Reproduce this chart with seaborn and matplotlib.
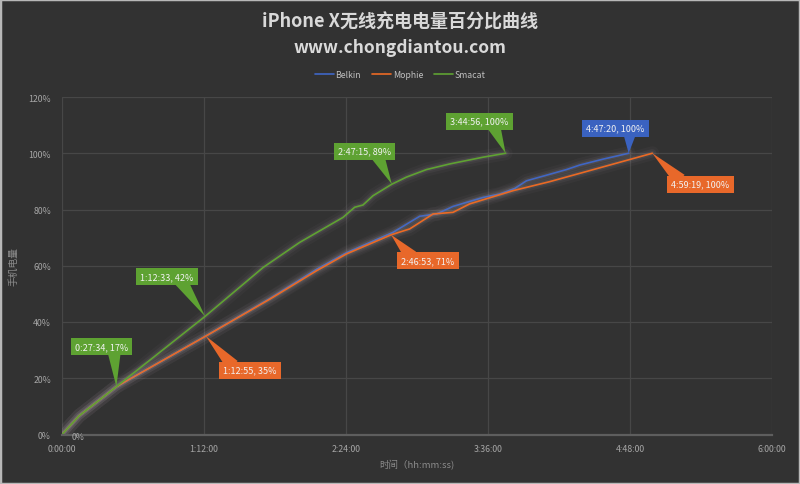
import numpy as np
import pandas as pd
import matplotlib
matplotlib.use("Agg")
import matplotlib.pyplot as plt
import matplotlib.patheffects as pe
from matplotlib.patches import Rectangle
import seaborn as sns

# ---------------- data (time in minutes, charge in %) ----------------
belkin_t = [0, 8.6, 27.57, 72.92, 105.3, 129, 144.2, 167.9, 181.4, 189.9, 198.3,
            213.5, 222, 229.6, 235.5, 255.8, 262.5, 274.3, 287.33]
belkin_y = [0, 6.6, 17, 35, 48.3, 58.7, 64.6, 71.9, 77.6, 78.4, 81.1,
            84.3, 85.5, 87.5, 90.2, 94.2, 95.8, 97.9, 100]

mophie_t = [0, 8.6, 27.57, 72.92, 105.3, 129, 144.2, 166.88, 176.3, 188.1, 198.3,
            206.7, 228.7, 247.3, 299.32]
mophie_y = [0, 6.6, 17, 35, 48.1, 58.2, 64.2, 71, 73.1, 78.4, 79,
            82, 86.7, 89.9, 100]

smacat_t = [0, 8.6, 27.57, 72.55, 102, 120.5, 142.5, 148.4, 152.6, 157.7, 167.25,
            174.6, 184.8, 196.6, 213.5, 224.93]
smacat_y = [0, 6.6, 17, 42, 59.4, 68.3, 77.2, 80.8, 81.6, 84.9, 89,
            91.5, 94.2, 96.2, 98.6, 100]

series_names = ["Belkin", "Mophie", "Smacat"]
x_ticks_min = [0, 72, 144, 216, 288, 360]
y_ticks_pct = [0, 20, 40, 60, 80, 100, 120]

# annotated points: (series, time, pct, label)
callouts = [
    ("Smacat", 27.57, 17, "0:27:34, 17%"),
    ("Smacat", 72.55, 42, "1:12:33, 42%"),
    ("Mophie", 72.92, 35, "1:12:55, 35%"),
    ("Smacat", 167.25, 89, "2:47:15, 89%"),
    ("Smacat", 224.93, 100, "3:44:56, 100%"),
    ("Mophie", 166.88, 71, "2:46:53, 71%"),
    ("Belkin", 287.33, 100, "4:47:20, 100%"),
    ("Mophie", 299.32, 100, "4:59:19, 100%"),
]
# callout box offsets in pixels and wedge base anchor (layout)
callout_offsets = [(-15, 40), (-38, 40), (44, -34), (-27, 33), (-26, 32),
                   (37, -26), (-13, 25), (48, -31)]
callout_relpos = [(0.74, 0), (0.76, 0), (0.18, 1), (0.74, 0), (0.74, 0),
                  (0.18, 1), (0.74, 0), (0.15, 1)]

# ---------------- style ----------------
BG = "#323232"
colors = {"Belkin": "#3f66c6", "Mophie": "#eb6a24", "Smacat": "#5fa232"}
box_colors = {"Belkin": "#3a62c0", "Mophie": "#e8682a", "Smacat": "#5ea232"}

sns.set_theme(style="dark")
plt.rcParams["font.family"] = ["Noto Sans CJK SC", "DejaVu Sans"]
plt.rcParams["axes.unicode_minus"] = False

df = pd.concat([
    pd.DataFrame({"t": belkin_t, "pct": belkin_y, "device": "Belkin"}),
    pd.DataFrame({"t": mophie_t, "pct": mophie_y, "device": "Mophie"}),
    pd.DataFrame({"t": smacat_t, "pct": smacat_y, "device": "Smacat"}),
], ignore_index=True)

fig = plt.figure(figsize=(8.0, 4.85), dpi=100, facecolor=BG)
ax = fig.add_axes([62 / 800, 1 - 435.5 / 485, (772 - 62) / 800, (435.5 - 98) / 485])
ax.set_facecolor(BG)

sns.lineplot(data=df, x="t", y="pct", hue="device", hue_order=series_names,
             palette=colors, sort=False, estimator=None, linewidth=1.2, ax=ax)

for line in ax.get_lines():
    line.set_path_effects([
        pe.Stroke(linewidth=10, foreground="#a0949a", alpha=0.05),
        pe.Stroke(linewidth=6, foreground="#a89aa0", alpha=0.08),
        pe.Stroke(linewidth=3.2, foreground="#b0a4aa", alpha=0.10),
        pe.Normal(),
    ])

ax.set_xlim(0, 360)
ax.set_ylim(0, 120)
ax.set_xticks(x_ticks_min)
ax.set_xticklabels([f"{m // 60}:{m % 60:02d}:00" for m in x_ticks_min])
ax.set_yticks(y_ticks_pct)
ax.set_yticklabels([f"{v}%" for v in y_ticks_pct])
ax.tick_params(axis="both", colors="#a6a6a6", labelsize=6.3, length=0)
ax.tick_params(axis="x", pad=7)
ax.tick_params(axis="y", pad=8)
ax.grid(True, color="#474747", linewidth=0.9)
for s in ["top", "right", "left"]:
    ax.spines[s].set_visible(False)
ax.spines["bottom"].set_color("#5e5e5e")
ax.spines["bottom"].set_linewidth(1.6)

ax.set_xlabel("时间（hh:mm:ss)", color="#8c8c8c", fontsize=6.8, labelpad=4)
ax.set_ylabel("手机电量", color="#8c8c8c", fontsize=7)
ax.yaxis.set_label_coords((18.5 - 62) / 710, (435.5 - 267) / 337.5)

# zero label at origin
ax.annotate("0%", xy=(0, 0), xytext=(10, -2), textcoords="offset pixels",
            color="#a6a6a6", fontsize=6.3, ha="left", va="center")

for (name, t, p, lab), (dx, dy), rp in zip(callouts, callout_offsets, callout_relpos):
    c = box_colors[name]
    ax.annotate(lab, xy=(t, p), xytext=(dx, dy), textcoords="offset pixels",
                ha="center", va="center", color="#f2f2f2", fontsize=6.5,
                bbox=dict(boxstyle="square,pad=0.45", fc=c, ec="none"),
                arrowprops=dict(arrowstyle="wedge,tail_width=1.5,shrink_factor=0.5",
                                fc=c, ec="none", shrinkA=0, shrinkB=0,
                                patchA=None, relpos=rp),
                zorder=6)

# legend
handles, labels = ax.get_legend_handles_labels()
for h in handles:
    h.set_path_effects([])
ax.legend(handles, labels, loc="center", bbox_to_anchor=(0.5, 1 - 76 / 485),
          bbox_transform=fig.transFigure, ncol=3, frameon=False,
          fontsize=6.3, labelcolor="#bfbfbf", handlelength=2.2,
          handletextpad=0.2, columnspacing=1.2)

fig.text(0.5, 1 - 22 / 485, "iPhone X无线充电电量百分比曲线", ha="center", va="center",
         color="#d9d9d9", fontsize=13, fontweight="bold")
fig.text(0.5, 1 - 48 / 485, "www.chongdiantou.com", ha="center", va="center",
         color="#d9d9d9", fontsize=12.5, fontweight="bold")

fig.patches.append(Rectangle((0, 0), 1, 1, transform=fig.transFigure, fill=False,
                             ec="#b8b8b8", lw=2.5, zorder=10))

fig.savefig("out.png", dpi=100, facecolor=BG)
